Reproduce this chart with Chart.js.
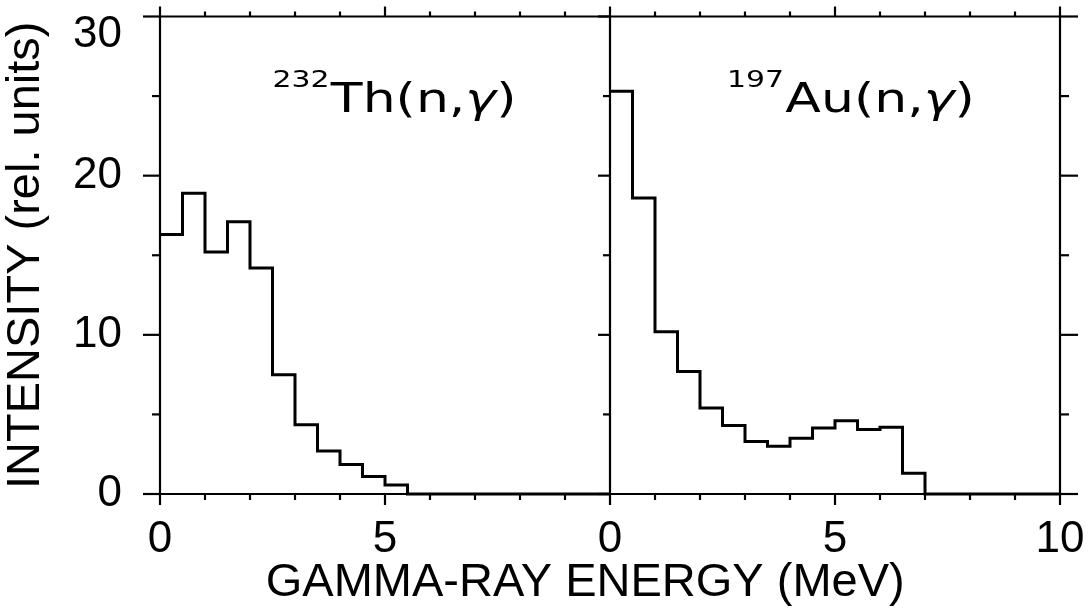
<!DOCTYPE html>
<html>
<head>
<meta charset="utf-8">
<script src="https://cdn.jsdelivr.net/npm/chart.js@4.4.1/dist/chart.umd.min.js"></script>
<style>
html, body { margin: 0; padding: 0; background: #fff; }
</style>
</head>
<body>
<canvas id="myChart" width="1090" height="610"></canvas>
<script>
// lower edges of the 0.5 MeV bins, same for both panels
const binEdges = [0, 0.5, 1, 1.5, 2, 2.5, 3, 3.5, 4, 4.5, 5, 5.5, 6, 6.5, 7, 7.5, 8, 8.5, 9, 9.5];
const thValues = [16.3, 18.9, 15.2, 17.1, 14.2, 7.5, 4.35, 2.7, 1.85, 1.1, 0.57, 0, 0, 0, 0, 0, 0, 0, 0, 0];
const auValues = [25.3, 18.6, 10.2, 7.7, 5.4, 4.3, 3.3, 3.0, 3.5, 4.15, 4.6, 4.05, 4.2, 1.3, 0, 0, 0, 0, 0, 0];

const panelWidth = 10; // MeV, right panel starts where the left one ends
const xTickValues = [0, 5, 10, 15, 20];
const xTickLabels = ['0', '5', '0', '5', '10'];
const yTickValues = [0, 10, 20, 30];
const yTickLabels = ['0', '10', '20', '30'];
const xTitle = 'GAMMA-RAY ENERGY (MeV)';

const sans = "'Liberation Sans', Arial, Helvetica, sans-serif";

function histPoints(values, offset) {
    const pts = values.map((v, i) => ({x: offset + binEdges[i], y: v}));
    pts.push({x: offset + panelWidth, y: 0});
    return pts;
}

function drawReaction(ctx, px, py, iso, name) {
    ctx.save();
    ctx.translate(px, py);
    ctx.scale(1.3, 1); // lettering in the original is wide
    ctx.fillStyle = '#000';
    ctx.textAlign = 'left';
    ctx.textBaseline = 'alphabetic';
    let cx = 0;
    ctx.font = '23px "DejaVu Sans"';
    ctx.fillText(iso, cx, -25);
    cx += ctx.measureText(iso).width + 1;
    ctx.font = '40px "DejaVu Sans"';
    ctx.fillText(name + '(n,', cx, 0);
    cx += ctx.measureText(name + '(n,').width;
    ctx.font = 'italic 40px "DejaVu Sans"';
    ctx.fillText('\u03b3', cx, 0);
    cx += ctx.measureText('\u03b3').width;
    ctx.font = '40px "DejaVu Sans"';
    ctx.fillText(')', cx, 0);
    ctx.restore();
}

const framePlugin = {
    id: 'frame',
    afterDraw(chart) {
        const {ctx, chartArea: a, scales: {x, y}} = chart;
        ctx.save();
        ctx.strokeStyle = '#000';
        ctx.lineWidth = 2.2;
        ctx.lineCap = 'butt';
        const line = (x1, y1, x2, y2) => {
            ctx.beginPath();
            ctx.moveTo(x1, y1);
            ctx.lineTo(x2, y2);
            ctx.stroke();
        };
        line(a.left, a.top, a.right, a.top);
        line(a.left, a.bottom, a.right, a.bottom);
        for (const v of [0, panelWidth, 2 * panelWidth]) {
            const px = x.getPixelForValue(v);
            line(px, a.top, px, a.bottom);
        }
        // x ticks every MeV, outward on top and bottom
        for (let v = 0; v <= 2 * panelWidth; v++) {
            const px = x.getPixelForValue(v);
            const major = v % 5 === 0;
            line(px, a.top, px, a.top - (major ? 10 : 5));
            line(px, a.bottom, px, a.bottom + (major ? 11 : 6));
        }
        // y ticks every 5 units
        const mid = x.getPixelForValue(panelWidth);
        for (let v = 0; v <= 30; v += 5) {
            const py = y.getPixelForValue(v);
            const major = v % 10 === 0;
            line(a.left, py, a.left - (major ? 17 : 8), py);
            line(mid, py, mid - (major ? 12 : 7), py);
            line(a.right, py, a.right + (major ? 18 : 9), py);
        }
        ctx.restore();

        // axis title sits a bit left of the middle in the original
        ctx.save();
        ctx.fillStyle = '#000';
        ctx.font = '47px ' + sans;
        ctx.textAlign = 'center';
        ctx.textBaseline = 'middle';
        ctx.fillText(xTitle, x.getPixelForValue(9.45), 583);
        ctx.restore();

        drawReaction(ctx, x.getPixelForValue(2.5), y.getPixelForValue(24), '232', 'Th');
        drawReaction(ctx, x.getPixelForValue(12.6), y.getPixelForValue(24), '197', 'Au');
    }
};

const ctx = document.getElementById('myChart').getContext('2d');
const myChart = new Chart(ctx, {
    type: 'line',
    data: {
        datasets: [{
            label: 'Th',
            data: histPoints(thValues, 0),
            stepped: 'before',
            borderColor: '#000',
            borderWidth: 3,
            pointRadius: 0,
            fill: false,
            clip: false
        }, {
            label: 'Au',
            data: histPoints(auValues, panelWidth),
            stepped: 'before',
            borderColor: '#000',
            borderWidth: 3,
            pointRadius: 0,
            fill: false,
            clip: false
        }]
    },
    options: {
        responsive: false,
        animation: false,
        layout: {padding: {top: 16.5, right: 30, left: 0, bottom: 0}},
        plugins: {legend: {display: false}, tooltip: {enabled: false}},
        scales: {
            x: {
                type: 'linear',
                min: 0,
                max: 2 * panelWidth,
                grid: {display: false},
                border: {display: false},
                afterBuildTicks: s => { s.ticks = xTickValues.map(v => ({value: v})); },
                afterFit: s => { s.height = 116; s.paddingLeft = 0; s.paddingRight = 0; },
                ticks: {
                    callback: (v, i) => xTickLabels[i],
                    color: '#000',
                    font: {family: sans, size: 44},
                    padding: 11,
                    maxRotation: 0,
                    autoSkip: false
                }
            },
            y: {
                min: 0,
                max: 30,
                grid: {display: false},
                border: {display: false},
                afterBuildTicks: s => { s.ticks = yTickValues.map(v => ({value: v})); },
                afterFit: s => { s.width = 160; s.paddingTop = 0; s.paddingBottom = 0; },
                ticks: {
                    // top label sits below its tick in the original
                    callback: (v, i) => i === yTickLabels.length - 1 ? ['', yTickLabels[i]] : yTickLabels[i],
                    color: '#000',
                    font: {family: sans, size: 44, lineHeight: 0.82},
                    padding: 30,
                    autoSkip: false
                },
                title: {
                    display: true,
                    text: 'INTENSITY (rel. units)',
                    color: '#000',
                    font: {family: sans, size: 47, lineHeight: 1.12},
                    padding: 0
                }
            }
        }
    },
    plugins: [framePlugin]
});
</script>
</body>
</html>
